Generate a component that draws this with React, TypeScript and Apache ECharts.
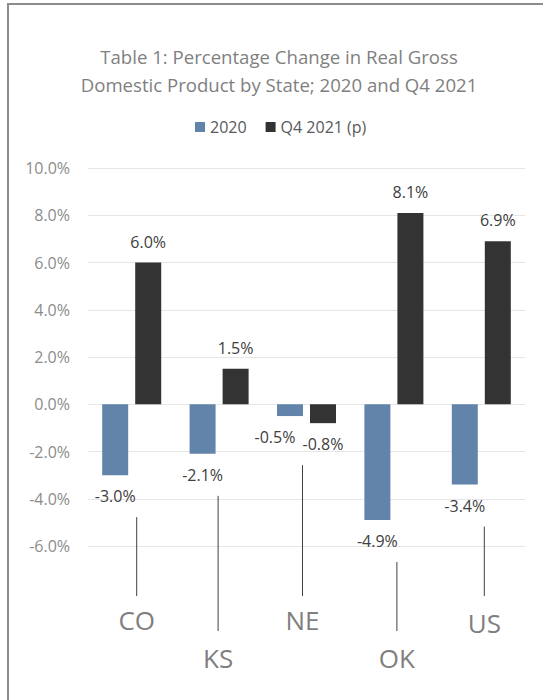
import React, { useEffect, useRef } from "react";
import * as echarts from "echarts";

const categories = ["CO", "KS", "NE", "OK", "US"];
const values2020 = [-3.0, -2.1, -0.5, -4.9, -3.4];
const valuesQ4 = [6.0, 1.5, -0.8, 8.1, 6.9];
const seriesNames = ["2020", "Q4 2021 (p)"];
const titleLines = [
  "Table 1: Percentage Change in Real Gross",
  "Domestic Product by State; 2020 and Q4 2021",
];
const yMin = -6;
const yMax = 10;
const yStep = 2;

// layout tweaks (pixels)
const lowLabel = [false, true, false, true, false];
const labelPadTop = [0, 76, 0, 76, 6];
const catDx = [5, -1, -4, 3, 3];
const dataLabelDx2020 = [0, 0, -15, 0, 0];

const FONT = "'Open Sans', 'Noto Sans', sans-serif";

export default function App() {
  const ref = useRef<HTMLDivElement>(null);
  useEffect(() => {
    document.body.style.margin = "0";
    const chart = echarts.init(ref.current!, null, { renderer: "svg" });
    const rich: Record<string, any> = {};
    categories.forEach((c, i) => {
      const dx = catDx[i];
      rich["c" + i] = {
        fontSize: 26,
        lineHeight: 30,
        color: "#7f7f7f",
        fontFamily: FONT,
        padding: [labelPadTop[i], dx < 0 ? -2 * dx : 0, 0, dx > 0 ? 2 * dx : 0],
      };
    });
    const fmt = (v: number) => v.toFixed(1) + "%";
    const labelBase = {
      show: true,
      distance: 13,
      fontSize: 16,
      color: "#404040",
      fontFamily: FONT,
      formatter: (p: any) => fmt(p.value),
    };
    const option: any = {
      animation: false,
      backgroundColor: "transparent",
      textStyle: { fontFamily: FONT },
      title: {
        text: titleLines.join("\n"),
        left: 274,
        top: 37,
        textAlign: "center",
        textStyle: {
          fontSize: 18.6,
          lineHeight: 28,
          fontWeight: "normal",
          color: "#7f7f7f",
          fontFamily: FONT,
        },
      },
      legend: {
        data: seriesNames,
        left: 190,
        top: 114,
        icon: "rect",
        itemWidth: 10,
        itemHeight: 10,
        itemGap: 19,
        textStyle: { fontSize: 16, color: "#595959", fontFamily: FONT },
      },
      grid: { left: 88, right: 18, top: 168, bottom: 154 },
      xAxis: {
        type: "category",
        data: categories,
        axisLine: { show: false },
        axisTick: { show: false },
        axisLabel: {
          margin: 59,
          interval: 0,
          formatter: (v: string, i: number) => "{c" + i + "|" + v + "}",
          rich,
        },
      },
      yAxis: {
        type: "value",
        min: yMin,
        max: yMax,
        interval: yStep,
        axisLine: { show: false },
        axisTick: { show: false },
        axisLabel: {
          margin: 18,
          fontSize: 16,
          color: "#8c8c8c",
          fontFamily: FONT,
          formatter: (v: number) => fmt(v),
        },
        splitLine: { lineStyle: { color: "#e6e6e6", width: 1 } },
      },
      series: [
        {
          name: seriesNames[0],
          type: "bar",
          barWidth: 26,
          barGap: "27%",
          itemStyle: { color: "#6283aa" },
          data: values2020.map((v, i) => ({
            value: v,
            label: {
              ...labelBase,
              position: v < 0 ? "bottom" : "top",
              offset: [dataLabelDx2020[i], 0],
            },
          })),
        },
        {
          name: seriesNames[1],
          type: "bar",
          barWidth: 26,
          barGap: "27%",
          itemStyle: { color: "#333333" },
          data: valuesQ4.map((v) => ({
            value: v,
            label: { ...labelBase, position: v < 0 ? "bottom" : "top" },
          })),
        },
        {
          name: "leader",
          type: "custom",
          clip: false,
          silent: true,
          data: categories.map((_, i) => [i]),
          encode: { x: 0 },
          renderItem: (params: any, api: any) => {
            const i = api.value(0);
            const top = api.coord([i, Math.min(values2020[i], valuesQ4[i], 0)]);
            const bottom = api.coord([i, yMin]);
            const x = top[0] + catDx[i];
            return {
              type: "line",
              shape: {
                x1: x,
                y1: top[1] + 42,
                x2: x,
                y2: bottom[1] + (lowLabel[i] ? 85 : 50),
              },
              style: { stroke: "#404040", lineWidth: 1 },
            };
          },
        },
      ],
    };
    chart.setOption(option);
    return () => chart.dispose();
  }, []);
  return (
    <div style={{ position: "relative", width: 543, height: 700, overflow: "hidden", background: "#fff" }}>
      <div
        style={{
          position: "absolute",
          left: 7,
          top: 3,
          width: 600,
          height: 760,
          borderLeft: "2px solid #8c8c8c",
          borderTop: "2px solid #8c8c8c",
        }}
      />
      <div ref={ref} style={{ position: "absolute", left: 0, top: 0, width: 543, height: 700 }} />
    </div>
  );
}
